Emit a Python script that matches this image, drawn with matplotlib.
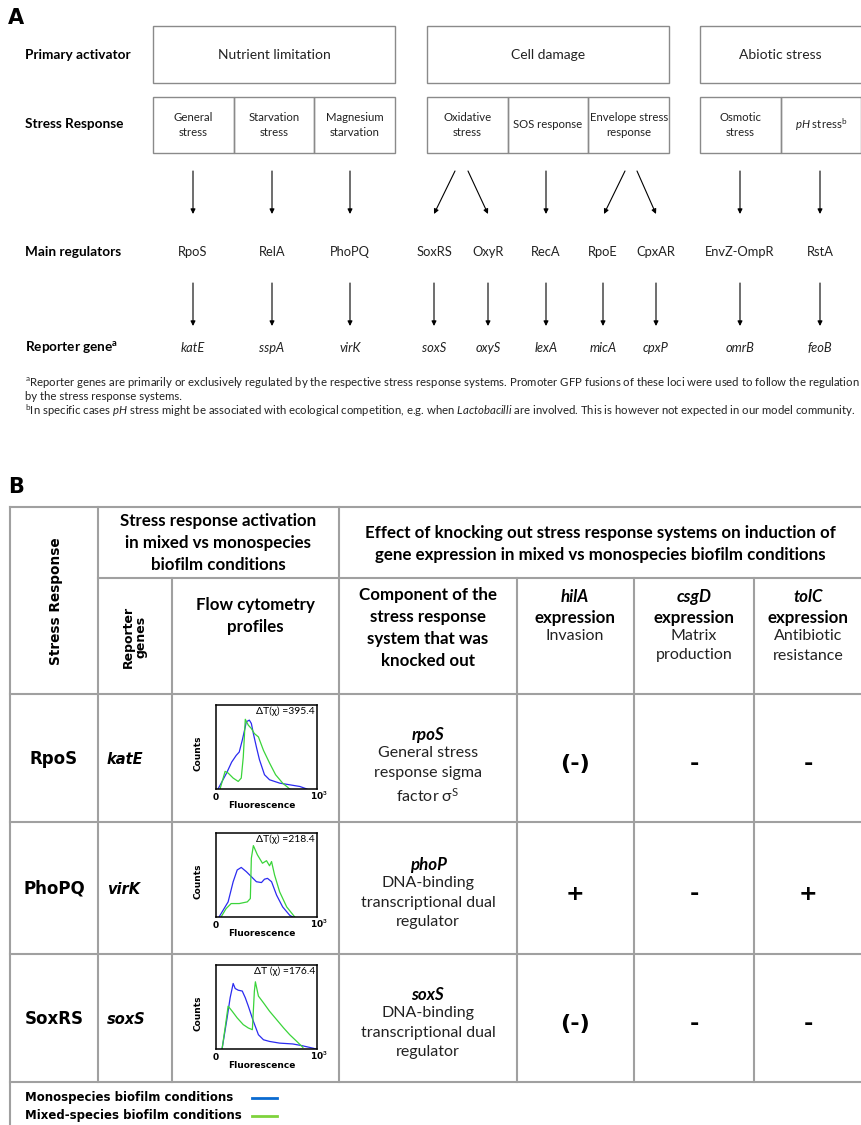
import matplotlib
matplotlib.use('Agg')
import matplotlib.pyplot as plt

plt.rcParams['font.family'] = ['Lato', 'DejaVu Sans']
plt.rcParams['mathtext.fontset'] = 'custom'
plt.rcParams['mathtext.rm'] = 'Lato'
plt.rcParams['mathtext.it'] = 'Lato:italic'
plt.rcParams['mathtext.bf'] = 'Lato:bold'

# ---- panel A data ----
activators = ['Nutrient limitation', 'Cell damage', 'Abiotic stress']
responses = [['General\nstress', 'Starvation\nstress', 'Magnesium\nstarvation'],
             ['Oxidative\nstress', 'SOS response', 'Envelope stress\nresponse'],
             ['Osmotic\nstress', r'$\mathit{pH}$ stress$^{\mathrm{b}}$']]
regulators = ['RpoS', 'RelA', 'PhoPQ', 'SoxRS', 'OxyR', 'RecA', 'RpoE', 'CpxAR', 'EnvZ-OmpR', 'RstA']
reporters = ['katE', 'sspA', 'virK', 'soxS', 'oxyS', 'lexA', 'micA', 'cpxP', 'omrB', 'feoB']
footnote_a = ('$^{\\mathrm{a}}$Reporter genes are primarily or exclusively regulated by the respective stress response '
              'systems. Promoter GFP fusions of these loci were used to follow the regulation')
footnote_a2 = 'by the stress response systems.'
footnote_b = ('$^{\\mathrm{b}}$In specific cases $\\mathit{pH}$ stress might be associated with ecological competition, '
              'e.g. when $\\mathit{Lactobacilli}$ are involved. This is however not expected in our model community.')

# ---- panel B data ----
row_systems = ['RpoS', 'PhoPQ', 'SoxRS']
row_reporters = ['katE', 'virK', 'soxS']
knockouts = ['rpoS', 'phoP', 'soxS']
knockout_desc = ['General stress\nresponse sigma\nfactor σ$^{\\mathrm{S}}$',
                 'DNA-binding\ntranscriptional dual\nregulator',
                 'DNA-binding\ntranscriptional dual\nregulator']
hilA_effect = ['(-)', '+', '(-)']
csgD_effect = ['-', '-', '-']
tolC_effect = ['-', '+', '-']
delta_t = ['ΔT(χ) =395.4', 'ΔT(χ) =218.4', 'ΔT (χ) =176.4']

# flow cytometry profiles (fluorescence fraction, relative counts)
mono_x = [[0.02, 0.105, 0.155, 0.2, 0.23, 0.26, 0.29, 0.3, 0.33, 0.35, 0.37, 0.4, 0.43, 0.48, 0.53, 0.63, 0.73, 0.83, 0.9],
          [0.03, 0.12, 0.17, 0.21, 0.25, 0.3, 0.35, 0.4, 0.45, 0.48, 0.51, 0.55, 0.6, 0.66, 0.73, 0.76],
          [0.06, 0.11, 0.14, 0.17, 0.19, 0.22, 0.26, 0.29, 0.32, 0.37, 0.42, 0.47, 0.53, 0.63, 0.76, 0.85, 0.96, 0.99]]
mono_y = [[0.0, 0.19, 0.32, 0.4, 0.44, 0.58, 0.74, 0.8, 0.82, 0.78, 0.66, 0.5, 0.35, 0.17, 0.11, 0.07, 0.05, 0.03, 0.0],
          [0.0, 0.18, 0.42, 0.56, 0.59, 0.54, 0.48, 0.42, 0.41, 0.45, 0.46, 0.42, 0.26, 0.12, 0.02, 0.0],
          [0.0, 0.37, 0.61, 0.78, 0.72, 0.7, 0.69, 0.61, 0.51, 0.33, 0.17, 0.11, 0.09, 0.07, 0.06, 0.04, 0.01, 0.0]]
mixed_x = [[0.04, 0.09, 0.12, 0.17, 0.22, 0.25, 0.27, 0.29, 0.32, 0.35, 0.38, 0.42, 0.47, 0.53, 0.59, 0.66, 0.73],
           [0.05, 0.1, 0.15, 0.23, 0.31, 0.34, 0.35, 0.37, 0.41, 0.46, 0.5, 0.53, 0.55, 0.58, 0.63, 0.7, 0.78],
           [0.06, 0.09, 0.12, 0.16, 0.21, 0.27, 0.32, 0.36, 0.38, 0.39, 0.42, 0.47, 0.53, 0.6, 0.67, 0.73, 0.8, 0.86]]
mixed_y = [[0.0, 0.21, 0.19, 0.13, 0.09, 0.13, 0.38, 0.83, 0.76, 0.72, 0.66, 0.62, 0.46, 0.31, 0.17, 0.07, 0.0],
           [0.0, 0.1, 0.16, 0.16, 0.18, 0.22, 0.7, 0.85, 0.74, 0.64, 0.67, 0.61, 0.66, 0.5, 0.3, 0.12, 0.0],
           [0.0, 0.25, 0.51, 0.45, 0.37, 0.29, 0.25, 0.23, 0.69, 0.8, 0.63, 0.55, 0.45, 0.35, 0.25, 0.17, 0.09, 0.02]]

legend_labels = ['Monospecies biofilm conditions', 'Mixed-species biofilm conditions']
mono_color = '#2b2bf0'
mixed_color = '#3ad43a'

W, H = 861, 1125
fig = plt.figure(figsize=(W / 100, H / 100), dpi=100)
ax = fig.add_axes([0, 0, 1, 1])
ax.set_xlim(0, W)
ax.set_ylim(H, 0)
ax.axis('off')

box_c = '#8a8a8a'
line_c = '#a0a0a0'
txt_c = '#222222'


def rect(x0, y0, x1, y1, c=box_c, lw=1.0):
    ax.add_patch(plt.Rectangle((x0, y0), x1 - x0, y1 - y0, fill=False, ec=c, lw=lw))


def arrow(x0, y0, x1, y1):
    ax.annotate('', xy=(x1, y1), xytext=(x0, y0),
                arrowprops=dict(arrowstyle='-|>', color='black', lw=0.8, mutation_scale=7, shrinkA=0, shrinkB=0))


# ================= Panel A =================
ax.text(8, 18, 'A', fontsize=15, fontweight='bold', family='DejaVu Sans', va='center')
lab_fs = 9.8
ax.text(25, 55, 'Primary activator', fontsize=lab_fs, fontweight='bold', va='center')
ax.text(25, 124, 'Stress Response', fontsize=lab_fs, fontweight='bold', va='center')
ax.text(25, 252, 'Main regulators', fontsize=lab_fs, fontweight='bold', va='center')
ax.text(25, 347, 'Reporter gene$^{\\mathbf{a}}$', fontsize=lab_fs, fontweight='bold', va='center')

groups = [(153, 395), (427, 669), (700, 941)]
for (gx0, gx1), act, resp in zip(groups, activators, responses):
    rect(gx0, 26, gx1, 83)
    cx = (gx0 + gx1) / 2 if gx1 <= W else gx0 + 80
    ax.text(cx, 55, act, fontsize=10, ha='center', va='center', color=txt_c)
    cw = 80.7
    for k, r in enumerate(resp):
        cx0 = gx0 + k * cw
        rect(cx0, 97, cx0 + cw, 153)
        ax.text(cx0 + cw / 2, 125, r, fontsize=8.2, ha='center', va='center',
                linespacing=1.5, color=txt_c)

reg_x = [193, 272, 350, 434, 488, 546, 603, 656, 740, 820]
# arrows from stress response boxes to regulators
for x in [193, 272, 350, 546, 740, 820]:
    arrow(x, 171, x, 214)
arrow(455, 171, 434, 214)
arrow(468, 171, 488, 214)
arrow(625, 171, 604, 214)
arrow(637, 171, 656, 214)

for x, reg, rep in zip(reg_x, regulators, reporters):
    ax.text(x, 252, reg, fontsize=9.3, ha='center', va='center', color=txt_c)
    arrow(x, 283, x, 326)
    ax.text(x, 348, rep, fontsize=9.3, ha='center', va='center', style='italic', color=txt_c)

fn_fs = 8.2
ax.text(25, 382, footnote_a, fontsize=fn_fs, va='center', color=txt_c)
ax.text(25, 396, footnote_a2, fontsize=fn_fs, va='center', color=txt_c)
ax.text(25, 411, footnote_b, fontsize=fn_fs, va='center', color=txt_c)

# ================= Panel B =================
ax.text(8, 487, 'B', fontsize=15, fontweight='bold', family='DejaVu Sans', va='center')

top, hdr = 507, 578
row_lines = [694, 822, 954, 1082]
lw_t = 1.5
ax.plot([10, W], [top, top], color=line_c, lw=lw_t)
ax.plot([98, W], [hdr, hdr], color=line_c, lw=lw_t)
for y in row_lines:
    ax.plot([10, W], [y, y], color=line_c, lw=lw_t)
ax.plot([10, 10], [top, H], color=line_c, lw=lw_t)
for x in [98, 339]:
    ax.plot([x, x], [top, row_lines[-1]], color=line_c, lw=lw_t)
for x in [172, 517, 634, 754]:
    ax.plot([x, x], [hdr, row_lines[-1]], color=line_c, lw=lw_t)

hd_fs = 12.2
hd_ls = 1.45
ax.text(56, 601, 'Stress Response', rotation=90, fontsize=9.8, fontweight='bold',
        family='DejaVu Sans', ha='center', va='center')
ax.text(218, 543, 'Stress response activation\nin mixed vs monospecies\nbiofilm conditions',
        fontsize=hd_fs, fontweight='bold', ha='center', va='center', linespacing=hd_ls)
ax.text(600, 544, 'Effect of knocking out stress response systems on induction of\n'
        'gene expression in mixed vs monospecies biofilm conditions',
        fontsize=hd_fs, fontweight='bold', ha='center', va='center', linespacing=hd_ls)
ax.text(135, 637, 'Reporter\ngenes', rotation=90, fontsize=9, fontweight='bold',
        family='DejaVu Sans', ha='center', va='center', linespacing=1.0)
ax.text(255, 616, 'Flow cytometry\nprofiles', fontsize=hd_fs, fontweight='bold',
        ha='center', va='center', linespacing=hd_ls)
ax.text(428, 628, 'Component of the\nstress response\nsystem that was\nknocked out', fontsize=hd_fs,
        fontweight='bold', ha='center', va='center', linespacing=hd_ls)

gene_heads = [('hilA', 'Invasion'), ('csgD', 'Matrix\nproduction'), ('tolC', 'Antibiotic\nresistance')]
head_cx = [575, 694, 808]
for cx, (g, d) in zip(head_cx, gene_heads):
    ax.text(cx, 597, g, fontsize=hd_fs, fontweight='bold', style='italic', ha='center', va='center')
    ax.text(cx, 618, 'expression', fontsize=hd_fs, fontweight='bold', ha='center', va='center')
    ax.text(cx, 629, d, fontsize=11.5, ha='center', va='top', linespacing=1.5, color=txt_c)

for i in range(3):
    y0, y1 = row_lines[i], row_lines[i + 1]
    cy = (y0 + y1) / 2
    ax.text(54, cy + 1, row_systems[i], fontsize=12, fontweight='bold', family='DejaVu Sans',
            ha='center', va='center')
    ax.text(107, cy + 1, row_reporters[i], fontsize=10.5, fontweight='bold', style='italic',
            family='DejaVu Sans', ha='left', va='center')
    ax.text(428, cy - 23, knockouts[i], fontsize=hd_fs, fontweight='bold', style='italic',
            ha='center', va='center')
    ax.text(428, cy - 12, knockout_desc[i], fontsize=11.5, ha='center', va='top', linespacing=1.5,
            color=txt_c)
    for cx, eff in zip(head_cx, [hilA_effect[i], csgD_effect[i], tolC_effect[i]]):
        ax.text(cx, cy + 6, eff, fontsize=16, fontweight='bold', family='DejaVu Sans',
                ha='center', va='center')

    # flow cytometry inset
    px0, px1 = 216, 317
    py0 = y0 + 11
    py1 = py0 + 84
    hax = fig.add_axes([px0 / W, 1 - py1 / H, (px1 - px0) / W, (py1 - py0) / H])
    hax.plot(mono_x[i], mono_y[i], color=mono_color, lw=0.9)
    hax.plot(mixed_x[i], mixed_y[i], color=mixed_color, lw=0.9)
    hax.set_xlim(0, 1)
    hax.set_ylim(0, 1.0)
    hax.set_xticks([])
    hax.set_yticks([])
    for s in hax.spines.values():
        s.set_linewidth(1.1)
    hax.text(0.98, 0.92, delta_t[i], transform=hax.transAxes, fontsize=7.5, ha='right', va='center')
    ax.text(198, (py0 + py1) / 2 + 6, 'Counts', rotation=90, fontsize=6.5, fontweight='bold',
            family='DejaVu Sans', ha='center', va='center')
    ax.text(px0, py1 + 8, '0', fontsize=6.5, fontweight='bold', family='DejaVu Sans',
            ha='center', va='center')
    ax.text(px1 + 2, py1 + 7, '10$^{\\mathbf{3}}$', fontsize=6.5, fontweight='bold',
            family='DejaVu Sans', ha='center', va='center')
    ax.text(262, py1 + 16, 'Fluorescence', fontsize=6.5, fontweight='bold', family='DejaVu Sans',
            ha='center', va='center')

# legend
ax.text(25, 1098, legend_labels[0], fontsize=8.5, fontweight='bold', family='DejaVu Sans', va='center')
ax.text(25, 1116, legend_labels[1], fontsize=8.5, fontweight='bold', family='DejaVu Sans', va='center')
ax.plot([252, 277], [1098, 1098], color='#0a6ad0', lw=2)
ax.plot([252, 277], [1116, 1116], color='#7ed33c', lw=2)

fig.savefig('out.png', dpi=100)
